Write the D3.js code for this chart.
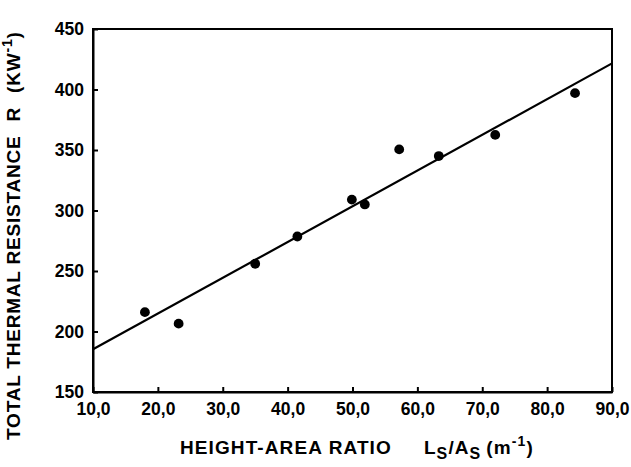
<!DOCTYPE html>
<html>
<head>
<meta charset="utf-8">
<script src="https://cdn.jsdelivr.net/npm/d3@7"></script>
<style>
  body { margin: 0; background: #fff; }
  svg text { font-family: "Liberation Sans", Arial, sans-serif; font-weight: bold; fill: #000; }
</style>
</head>
<body>
<svg id="chart" width="631" height="467"></svg>
<script>
const WIDTH = 631;
const HEIGHT = 467;
const margin = { top: 29, right: 19, bottom: 75, left: 93 };

// measured points
const ratio = [18.0, 23.2, 35.0, 41.5, 49.9, 51.9, 57.2, 63.3, 72.0, 84.3];
const resistance = [216, 206.5, 256, 278.5, 309, 305, 350.5, 345, 362.5, 397];

// regression line end points
const fitX = [10, 90];
const fitY = [185.3, 421.6];

const xTicks = [10, 20, 30, 40, 50, 60, 70, 80, 90];
const yTicks = [150, 200, 250, 300, 350, 400, 450];

const svg = d3.select("#chart");
const innerW = WIDTH - margin.left - margin.right;
const innerH = HEIGHT - margin.top - margin.bottom;

const g = svg.append("g").attr("transform", `translate(${margin.left},${margin.top})`);

const xScale = d3.scaleLinear().domain([10, 90]).range([0, innerW]);
const yScale = d3.scaleLinear().domain([150, 450]).range([innerH, 0]);

// frame
g.append("rect")
  .attr("width", innerW)
  .attr("height", innerH)
  .attr("fill", "none")
  .attr("stroke", "#000")
  .attr("stroke-width", 2);

const xAxis = d3.axisBottom(xScale)
  .tickValues(xTicks)
  .tickSizeInner(-5)
  .tickSizeOuter(0)
  .tickPadding(11)
  .tickFormat(d => d3.format(".1f")(d).replace(".", ","));

const yAxis = d3.axisLeft(yScale)
  .tickValues(yTicks)
  .tickSizeInner(-5)
  .tickSizeOuter(0)
  .tickPadding(9);

const gx = g.append("g").attr("transform", `translate(0,${innerH})`).call(xAxis);
const gy = g.append("g").call(yAxis);

[gx, gy].forEach(a => {
  a.select(".domain").attr("stroke", "#000").attr("stroke-width", 2);
  a.selectAll(".tick line").attr("stroke", "#000").attr("stroke-width", 2);
  a.selectAll(".tick text")
    .style("font-size", "17.5px")
    .style("font-family", "'Liberation Sans', Arial, sans-serif")
    .style("font-weight", "bold");
});

// fitted line
const line = d3.line().x(d => xScale(d[0])).y(d => yScale(d[1]));
g.append("path")
  .datum(d3.zip(fitX, fitY))
  .attr("d", line)
  .attr("fill", "none")
  .attr("stroke", "#000")
  .attr("stroke-width", 2.2);

// data points
g.selectAll("circle")
  .data(d3.zip(ratio, resistance))
  .enter()
  .append("circle")
  .attr("cx", d => xScale(d[0]))
  .attr("cy", d => yScale(d[1]))
  .attr("r", 4.9)
  .attr("fill", "#000");

// x axis title
const xt = svg.append("text")
  .attr("x", 180)
  .attr("y", 454)
  .style("font-size", "19px")
  .style("letter-spacing", "1.1px");
xt.append("tspan").text("HEIGHT-AREA RATIO");
xt.append("tspan").attr("dx", 32).text("L");
xt.append("tspan").attr("dy", 5).style("font-size", "16px").text("S");
xt.append("tspan").attr("dy", -5).text("/A");
xt.append("tspan").attr("dy", 5).style("font-size", "16px").text("S");
xt.append("tspan").attr("dy", -5).attr("dx", 5).text("(m");
xt.append("tspan").attr("dy", -8).style("font-size", "14px").text("-1");
xt.append("tspan").attr("dy", 8).text(")");

// y axis title
const yt = svg.append("text")
  .attr("transform", "translate(20,440) rotate(-90)")
  .style("font-size", "19px")
  .style("letter-spacing", "0.8px");
yt.append("tspan").text("TOTAL THERMAL RESISTANCE");
yt.append("tspan").attr("dx", 14).text("R");
yt.append("tspan").attr("dx", 14).text("(KW");
yt.append("tspan").attr("dy", -8).style("font-size", "14px").text("-1");
yt.append("tspan").attr("dy", 8).text(")");
</script>
</body>
</html>
